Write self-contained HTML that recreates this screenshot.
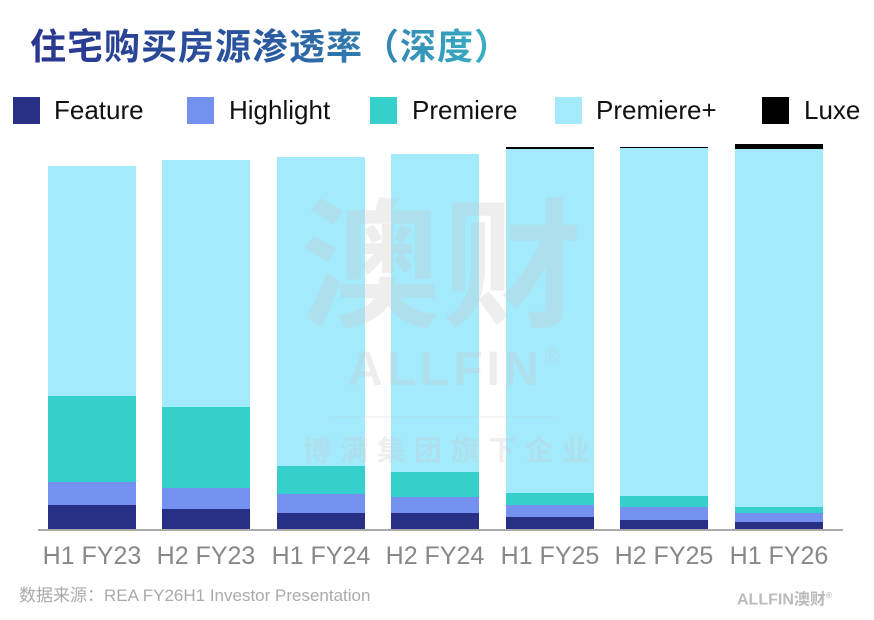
<!DOCTYPE html>
<html><head><meta charset="utf-8"><style>
body{margin:0;width:874px;height:620px;background:#fff;position:relative;overflow:hidden;font-family:"Liberation Sans","Noto Sans CJK SC",sans-serif}
.a{position:absolute}
.title{left:30px;top:24px;font-size:36px;line-height:46px;font-weight:bold;background:linear-gradient(90deg,#2a3590,#2a5aa0 50%,#3ab8c8);-webkit-background-clip:text;background-clip:text;color:transparent;white-space:nowrap;letter-spacing:1px}
.sq{width:27px;height:27px;top:97px}
.lg{top:95px;font-size:26px;color:#111;line-height:30px}
.lab{top:540px;font-size:25px;color:#888;line-height:32px;width:130px;text-align:center}
.wm{color:rgba(200,200,200,0.3);font-weight:bold;white-space:nowrap}
</style></head><body>
<div class="a title">住宅购买房源渗透率（深度）</div>
<div class="a sq" style="left:13px;background:#283086"></div><div class="a lg" style="left:54px">Feature</div>
<div class="a sq" style="left:187px;background:#7491f0"></div><div class="a lg" style="left:229px">Highlight</div>
<div class="a sq" style="left:370px;background:#35cfcc"></div><div class="a lg" style="left:412px">Premiere</div>
<div class="a sq" style="left:555px;background:#a2eafc"></div><div class="a lg" style="left:596px">Premiere+</div>
<div class="a sq" style="left:762px;background:#000"></div><div class="a lg" style="left:804px">Luxe</div>
<svg class="a" style="left:0;top:0" width="874" height="620">
<rect x="48" y="166" width="88" height="230" fill="#a2eafc"/><rect x="48" y="396" width="88" height="86" fill="#35cfcc"/><rect x="48" y="482" width="88" height="23" fill="#7491f0"/><rect x="48" y="505" width="88" height="25" fill="#283086"/>
<rect x="162" y="160" width="88" height="247" fill="#a2eafc"/><rect x="162" y="407" width="88" height="81" fill="#35cfcc"/><rect x="162" y="488" width="88" height="21" fill="#7491f0"/><rect x="162" y="509" width="88" height="21" fill="#283086"/>
<rect x="277" y="157" width="88" height="309" fill="#a2eafc"/><rect x="277" y="466" width="88" height="28" fill="#35cfcc"/><rect x="277" y="494" width="88" height="19" fill="#7491f0"/><rect x="277" y="513" width="88" height="17" fill="#283086"/>
<rect x="391" y="154" width="88" height="318" fill="#a2eafc"/><rect x="391" y="472" width="88" height="25" fill="#35cfcc"/><rect x="391" y="497" width="88" height="16" fill="#7491f0"/><rect x="391" y="513" width="88" height="17" fill="#283086"/>
<rect x="506" y="147" width="88" height="2" fill="#000"/><rect x="506" y="149" width="88" height="344" fill="#a2eafc"/><rect x="506" y="493" width="88" height="12" fill="#35cfcc"/><rect x="506" y="505" width="88" height="12" fill="#7491f0"/><rect x="506" y="517" width="88" height="13" fill="#283086"/>
<rect x="620" y="147" width="88" height="1" fill="#000"/><rect x="620" y="148" width="88" height="348" fill="#a2eafc"/><rect x="620" y="496" width="88" height="11" fill="#35cfcc"/><rect x="620" y="507" width="88" height="13" fill="#7491f0"/><rect x="620" y="520" width="88" height="10" fill="#283086"/>
<rect x="735" y="144" width="88" height="5" fill="#000"/><rect x="735" y="149" width="88" height="358" fill="#a2eafc"/><rect x="735" y="507" width="88" height="6" fill="#35cfcc"/><rect x="735" y="513" width="88" height="9" fill="#7491f0"/><rect x="735" y="522" width="88" height="8" fill="#283086"/>
<rect x="38" y="529" width="805" height="2" fill="#aaa"/>
<line x1="330" y1="417" x2="556" y2="417" stroke="rgba(200,200,200,0.3)" stroke-width="1"/>
</svg>
<div class="a wm" style="left:300px;top:188px;font-size:140px;line-height:160px;letter-spacing:2px">澳财</div>
<div class="a wm" style="left:348px;top:345px;font-size:48px;line-height:50px;letter-spacing:4px">ALLFIN</div>
<div class="a wm" style="left:545px;top:345px;font-size:20px">®</div>
<div class="a wm" style="left:303px;top:433px;font-size:28px;line-height:36px;letter-spacing:9px">博满集团旗下企业</div>
<div class="a lab" style="left:27px">H1 FY23</div>
<div class="a lab" style="left:141px">H2 FY23</div>
<div class="a lab" style="left:256px">H1 FY24</div>
<div class="a lab" style="left:370px">H2 FY24</div>
<div class="a lab" style="left:485px">H1 FY25</div>
<div class="a lab" style="left:599px">H2 FY25</div>
<div class="a lab" style="left:714px">H1 FY26</div>
<div class="a" style="left:19px;top:586px;font-size:17px;color:#aaa;line-height:20px">数据来源：REA FY26H1 Investor Presentation</div>
<div class="a" style="left:737px;top:586px;font-size:16px;color:#bbb;font-weight:bold;line-height:20px">ALLFIN澳财<sup style="font-size:8px">®</sup></div>
</body></html>
